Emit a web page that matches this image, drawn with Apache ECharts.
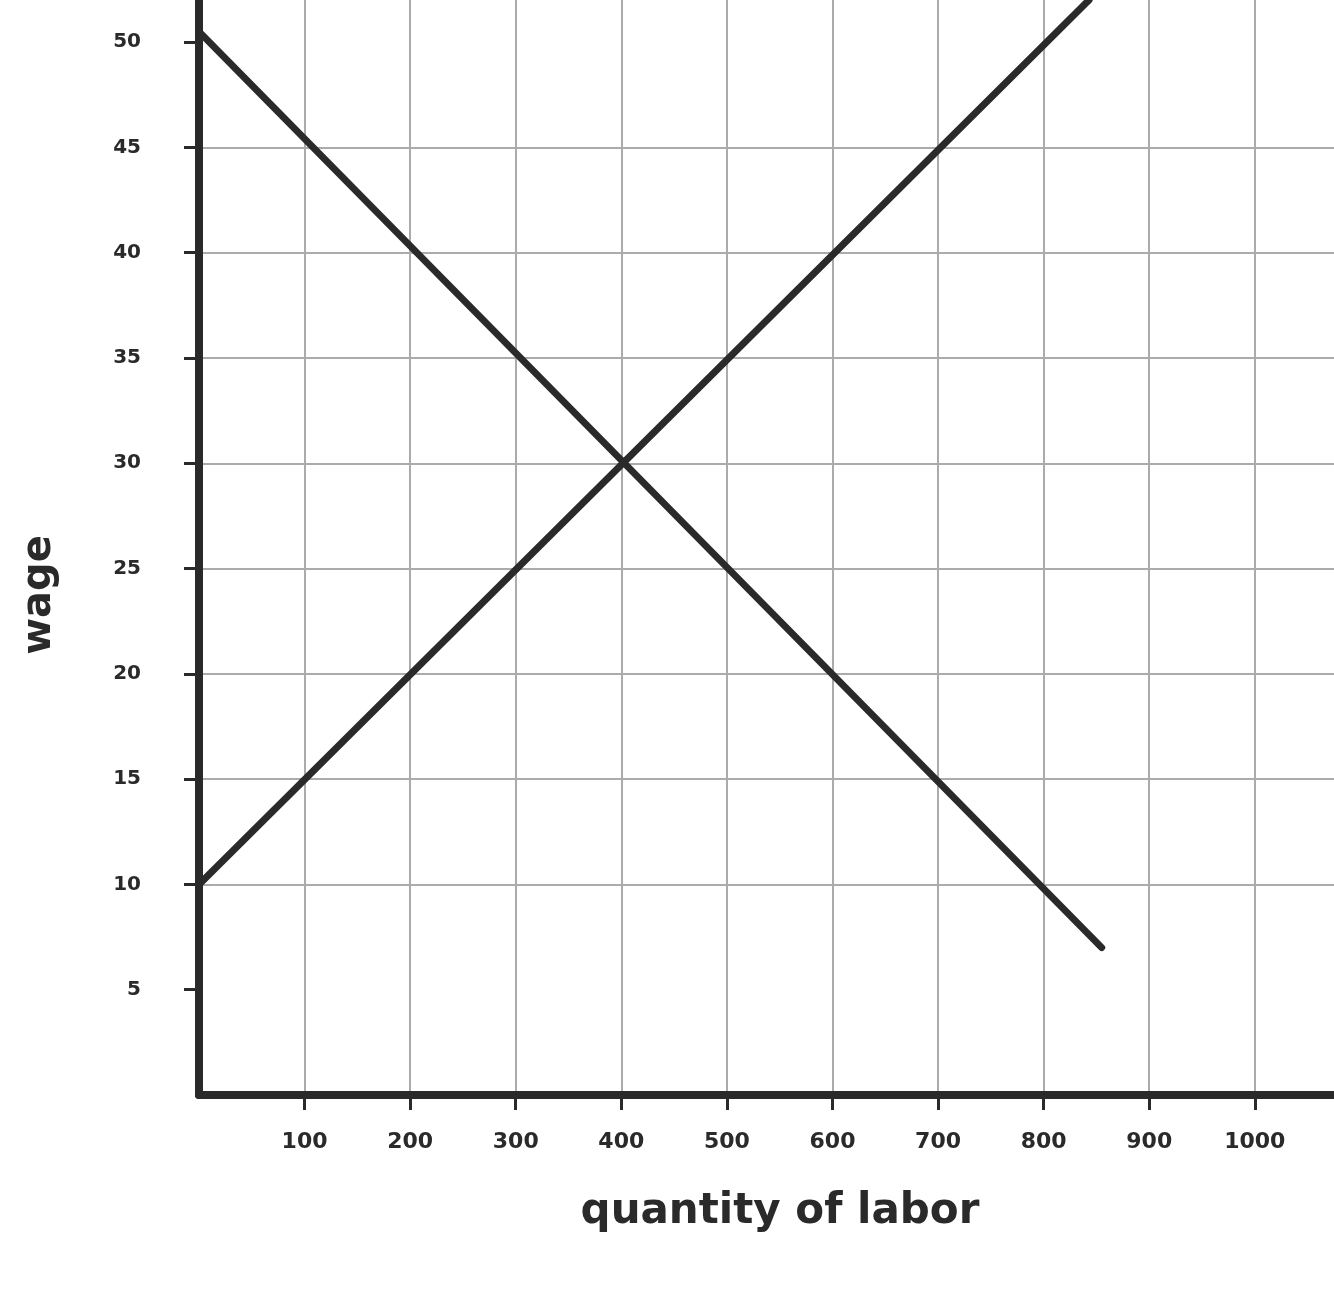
<!DOCTYPE html>
<html>
<head>
<meta charset="utf-8">
<script src="https://cdn.jsdelivr.net/npm/echarts@6/dist/echarts.min.js"></script>
<style>
  html, body { margin: 0; padding: 0; background: #ffffff; }
  #chart { width: 1334px; height: 1290px; }
</style>
</head>
<body>
<div id="chart"></div>
<script>
// Data
var demandQuantity = [0, 855];
var demandWage = [50.5, 7.0];
var supplyQuantity = [0, 843];
var supplyWage = [10, 52];
var xTickValues = [100, 200, 300, 400, 500, 600, 700, 800, 900, 1000];
var yTickValues = [5, 10, 15, 20, 25, 30, 35, 40, 45, 50];
var xTitle = 'quantity of labor';
var yTitle = 'wage';

function pairs(xs, ys) {
  return xs.map(function (x, i) { return [x, ys[i]]; });
}

var ink = '#2a2a2a';
var gridGray = '#ababab';
var labelFont = '"DejaVu Sans", sans-serif';

var chart = echarts.init(document.getElementById('chart'), null, { renderer: 'canvas' });
chart.setOption({
  backgroundColor: '#ffffff',
  animation: false,
  grid: { left: 199, right: 0, top: 0, bottom: 195, containLabel: false },
  xAxis: {
    type: 'value',
    min: 0,
    max: 1075,
    interval: 100,
    axisLine: { show: true, onZero: false, lineStyle: { color: ink, width: 8, cap: 'round' } },
    axisTick: { show: true, length: 15, customValues: xTickValues, lineStyle: { color: ink, width: 3 } },
    splitLine: { show: true, showMaxLine: true, showMinLine: true, lineStyle: { color: gridGray, width: 2 } },
    axisLabel: {
      margin: 36,
      color: ink,
      fontSize: 22,
      fontWeight: 'bold',
      fontFamily: labelFont,
      customValues: xTickValues,
      formatter: function (v) { return String(v); }
    }
  },
  yAxis: {
    type: 'value',
    min: 0,
    max: 52,
    interval: 5,
    axisLine: { show: true, onZero: false, lineStyle: { color: ink, width: 8, cap: 'round' } },
    axisTick: { show: true, length: 15, customValues: yTickValues, lineStyle: { color: ink, width: 3 } },
    splitLine: { show: true, showMaxLine: false, showMinLine: false, lineStyle: { color: gridGray, width: 2 } },
    axisLabel: {
      margin: 58,
      color: ink,
      fontSize: 20,
      fontWeight: 'bold',
      fontFamily: labelFont,
      customValues: yTickValues,
      formatter: function (v) { return String(v); }
    }
  },
  graphic: [
    {
      type: 'text',
      x: 780,
      y: 1212,
      style: { text: xTitle, fill: ink, font: 'bold 42px "DejaVu Sans", sans-serif', align: 'center', verticalAlign: 'middle' }
    },
    {
      type: 'text',
      x: 40,
      y: 595,
      rotation: Math.PI / 2,
      style: { text: yTitle, fill: ink, font: 'bold 40px "DejaVu Sans", sans-serif', align: 'center', verticalAlign: 'middle' }
    }
  ],
  series: [
    {
      name: 'demand',
      type: 'line',
      data: pairs(demandQuantity, demandWage),
      symbol: 'none',
      lineStyle: { color: ink, width: 7, cap: 'round' },
      clip: false
    },
    {
      name: 'supply',
      type: 'line',
      data: pairs(supplyQuantity, supplyWage),
      symbol: 'none',
      lineStyle: { color: ink, width: 7, cap: 'round' },
      clip: true
    }
  ]
});
</script>
</body>
</html>
